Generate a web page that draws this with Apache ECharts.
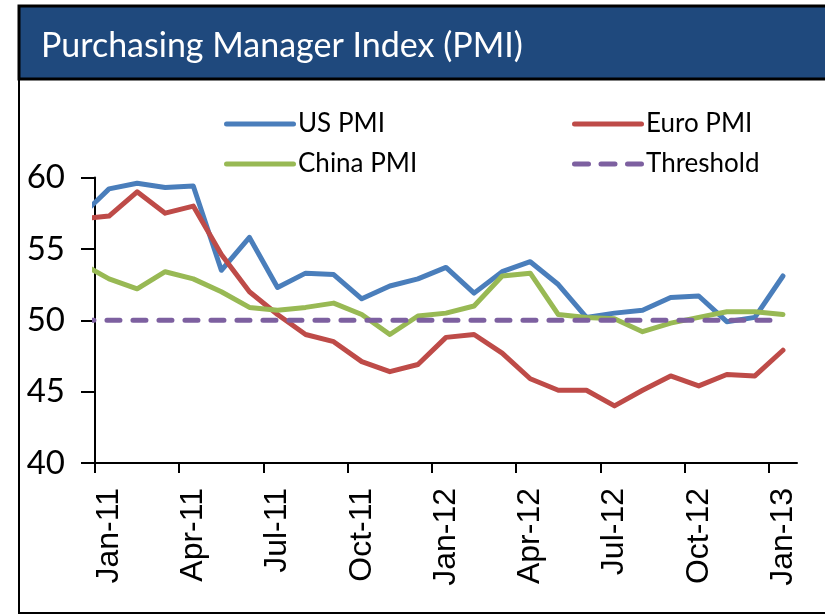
<!DOCTYPE html>
<html>
<head>
<meta charset="utf-8">
<script src="https://cdn.jsdelivr.net/npm/echarts@6/dist/echarts.min.js"></script>
<style>
  html, body { margin: 0; padding: 0; background: #fff; }
  #chart { width: 825px; height: 616px; }
</style>
</head>
<body>
<div id="chart"></div>
<script>
// monthly readings, Dec-10 .. Jan-13 (Dec-10 sits left of the axis and gets clipped)
var months = ['Dec-10', 'Jan-11', 'Feb-11', 'Mar-11', 'Apr-11', 'May-11', 'Jun-11', 'Jul-11', 'Aug-11',
  'Sep-11', 'Oct-11', 'Nov-11', 'Dec-11', 'Jan-12', 'Feb-12', 'Mar-12', 'Apr-12', 'May-12', 'Jun-12',
  'Jul-12', 'Aug-12', 'Sep-12', 'Oct-12', 'Nov-12', 'Dec-12', 'Jan-13'];
var usPmi = [57.3, 59.2, 59.6, 59.3, 59.4, 53.5, 55.8, 52.3, 53.3, 53.2, 51.5, 52.4, 52.9,
  53.7, 51.9, 53.4, 54.1, 52.5, 50.2, 50.5, 50.7, 51.6, 51.7, 49.9, 50.2, 53.1];
var euroPmi = [57.1, 57.3, 59.0, 57.5, 58.0, 54.6, 52.0, 50.4, 49.0, 48.5, 47.1, 46.4, 46.9,
  48.8, 49.0, 47.7, 45.9, 45.1, 45.1, 44.0, 45.1, 46.1, 45.4, 46.2, 46.1, 47.9];
var chinaPmi = [54.0, 52.9, 52.2, 53.4, 52.9, 52.0, 50.9, 50.7, 50.9, 51.2, 50.4, 49.0, 50.3,
  50.5, 51.0, 53.1, 53.3, 50.4, 50.2, 50.1, 49.2, 49.8, 50.2, 50.6, 50.6, 50.4];
var threshold = [50, 50, 50, 50, 50, 50, 50, 50, 50, 50, 50, 50, 50,
  50, 50, 50, 50, 50, 50, 50, 50, 50, 50, 50, 50, 50];
var tickLabels = ['Jan-11', 'Apr-11', 'Jul-11', 'Oct-11', 'Jan-12', 'Apr-12', 'Jul-12', 'Oct-12', 'Jan-13'];

// x is months from 1 Jan 2011; each reading sits mid-month
function pos(i) { return i - 1 + 0.5; }
function pairs(vals) {
  return vals.map(function (v, i) { return [pos(i), v]; });
}
var labelVals = tickLabels.map(function (m) { return pos(months.indexOf(m)); });
var tickVals = labelVals.map(function (v) { return v - 0.5; });

// legend swatches: one thick rounded bar, or three short ones for the dashed line
var solidIcon = 'path://M2.5,0H69.5A2.5,2.5 0 0 1 69.5,5H2.5A2.5,2.5 0 0 1 2.5,0Z';
var dashIcon = 'path://M2.5,0H16.5A2.5,2.5 0 0 1 16.5,5H2.5A2.5,2.5 0 0 1 2.5,0Z' +
  'M29,0H43A2.5,2.5 0 0 1 43,5H29A2.5,2.5 0 0 1 29,0Z' +
  'M55.5,0H69.5A2.5,2.5 0 0 1 69.5,5H55.5A2.5,2.5 0 0 1 55.5,0Z';

function lineSeries(name, vals, color, dashed) {
  return {
    name: name,
    type: 'line',
    data: pairs(vals),
    symbol: 'none',
    clip: true,
    lineStyle: {
      color: color,
      width: 5,
      type: dashed ? [13, 13] : 'solid',
      cap: 'round',
      join: 'round'
    },
    itemStyle: { color: color }
  };
}

var legendBase = {
  orient: 'vertical',
  top: 106,
  itemWidth: 72,
  itemHeight: 5,
  itemGap: 14,
  textStyle: { fontFamily: 'Lato', fontSize: 26, color: '#000', padding: [0, 0, 0, -3] }
};

var chart = echarts.init(document.getElementById('chart'));
var option = {
  animation: false,
  title: {
    text: 'Purchasing Manager Index (PMI)',
    left: 36,
    top: 24,
    textStyle: { color: '#fff', fontFamily: 'Lato', fontSize: 34, fontWeight: 'normal' }
  },
  graphic: [
    {
      type: 'rect',
      shape: { x: 19, y: 6, width: 830, height: 607 },
      style: { fill: 'none', stroke: '#000', lineWidth: 2 },
      z: -1
    },
    {
      type: 'rect',
      shape: { x: 19, y: 6, width: 830, height: 73 },
      style: { fill: '#1F497D', stroke: '#000', lineWidth: 3 },
      z: -1
    }
  ],
  legend: [
    Object.assign({}, legendBase, {
      left: 219,
      data: [{ name: 'US PMI', icon: solidIcon }, { name: 'China PMI', icon: solidIcon }]
    }),
    Object.assign({}, legendBase, {
      left: 567,
      data: [{ name: 'Euro PMI', icon: solidIcon }, { name: 'Threshold', icon: dashIcon }]
    })
  ],
  grid: { left: 95, right: 28, top: 177.5, bottom: 153, containLabel: false },
  xAxis: {
    type: 'value',
    min: 0,
    max: 25,
    splitLine: { show: false },
    axisLine: { lineStyle: { color: '#000', width: 2 } },
    axisTick: {
      customValues: tickVals,
      length: 10,
      lineStyle: { color: '#000', width: 2 }
    },
    axisLabel: {
      customValues: labelVals,
      rotate: 90,
      margin: 25,
      fontFamily: 'Liberation Sans',
      fontSize: 32,
      color: '#000',
      formatter: function (v) {
        return months[Math.round(v + 0.5)];
      }
    }
  },
  yAxis: {
    type: 'value',
    min: 40,
    max: 60,
    interval: 5,
    splitLine: { show: false },
    axisLine: { show: true, lineStyle: { color: '#000', width: 2 } },
    axisTick: { show: true, length: 14, lineStyle: { color: '#000', width: 2 } },
    axisLabel: { margin: 30, fontFamily: 'Lato', fontSize: 33, color: '#000' }
  },
  series: [
    lineSeries('US PMI', usPmi, '#4A7EBB'),
    lineSeries('Euro PMI', euroPmi, '#BE4B48'),
    lineSeries('China PMI', chinaPmi, '#98B954'),
    lineSeries('Threshold', threshold, '#7D60A0', true)
  ]
};
chart.setOption(option);
</script>
</body>
</html>
